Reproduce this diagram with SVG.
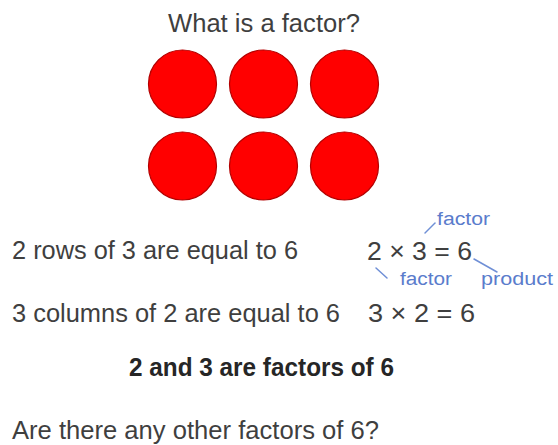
<svg xmlns="http://www.w3.org/2000/svg" width="558" height="445" viewBox="0 0 558 445">
<style>
.t{font-family:"Liberation Sans",Arial,sans-serif;fill:#3f3f3f;font-size:25px}
.b{font-weight:bold;fill:#262626}
.lbl{font-family:"Liberation Sans",Arial,sans-serif;fill:#5a7ccc;font-size:18px}
.dot{fill:#ff0000;stroke:#b30000;stroke-width:1.2}
.tick{stroke:#6f8fd6;stroke-width:1.5;fill:none;stroke-linecap:round}
</style>
<rect width="558" height="445" fill="#ffffff"/>
<g id="title"><text class="t" x="168" y="32" font-size="26" textLength="192" lengthAdjust="spacingAndGlyphs">What is a factor?</text></g>
<g id="dots">
<circle class="dot" cx="182.5" cy="84" r="34"/>
<circle class="dot" cx="263.5" cy="84" r="34"/>
<circle class="dot" cx="344.5" cy="84" r="34"/>
<circle class="dot" cx="182.5" cy="166" r="34"/>
<circle class="dot" cx="263.5" cy="166" r="34"/>
<circle class="dot" cx="344.5" cy="166" r="34"/>
</g>
<g id="rows"><text class="t" x="12" y="259" textLength="286" lengthAdjust="spacingAndGlyphs">2 rows of 3 are equal to 6</text></g>
<g id="eq1"><text class="t" x="367" y="260" textLength="105" lengthAdjust="spacingAndGlyphs">2 × 3 = 6</text></g>
<g id="label-factor-top"><text class="lbl" x="437" y="225" textLength="53" lengthAdjust="spacingAndGlyphs">factor</text></g>
<g id="label-factor-bottom"><text class="lbl" x="400" y="285" textLength="52" lengthAdjust="spacingAndGlyphs">factor</text></g>
<g id="label-product"><text class="lbl" x="481" y="285" textLength="72" lengthAdjust="spacingAndGlyphs">product</text></g>
<g id="columns"><text class="t" x="12" y="322" textLength="328" lengthAdjust="spacingAndGlyphs">3 columns of 2 are equal to 6</text></g>
<g id="eq2"><text class="t" x="368" y="322" textLength="107" lengthAdjust="spacingAndGlyphs">3 × 2 = 6</text></g>
<g id="conclusion"><text class="t b" x="129" y="376" textLength="265" lengthAdjust="spacingAndGlyphs">2 and 3 are factors of 6</text></g>
<g id="question"><text class="t" x="12" y="439" textLength="367" lengthAdjust="spacingAndGlyphs">Are there any other factors of 6?</text></g>
<g id="connectors">
<line class="tick" x1="425" y1="233" x2="435" y2="223"/>
<line class="tick" x1="376" y1="268" x2="387" y2="278"/>
<line class="tick" x1="474" y1="259" x2="497" y2="272"/>
</g>
</svg>
